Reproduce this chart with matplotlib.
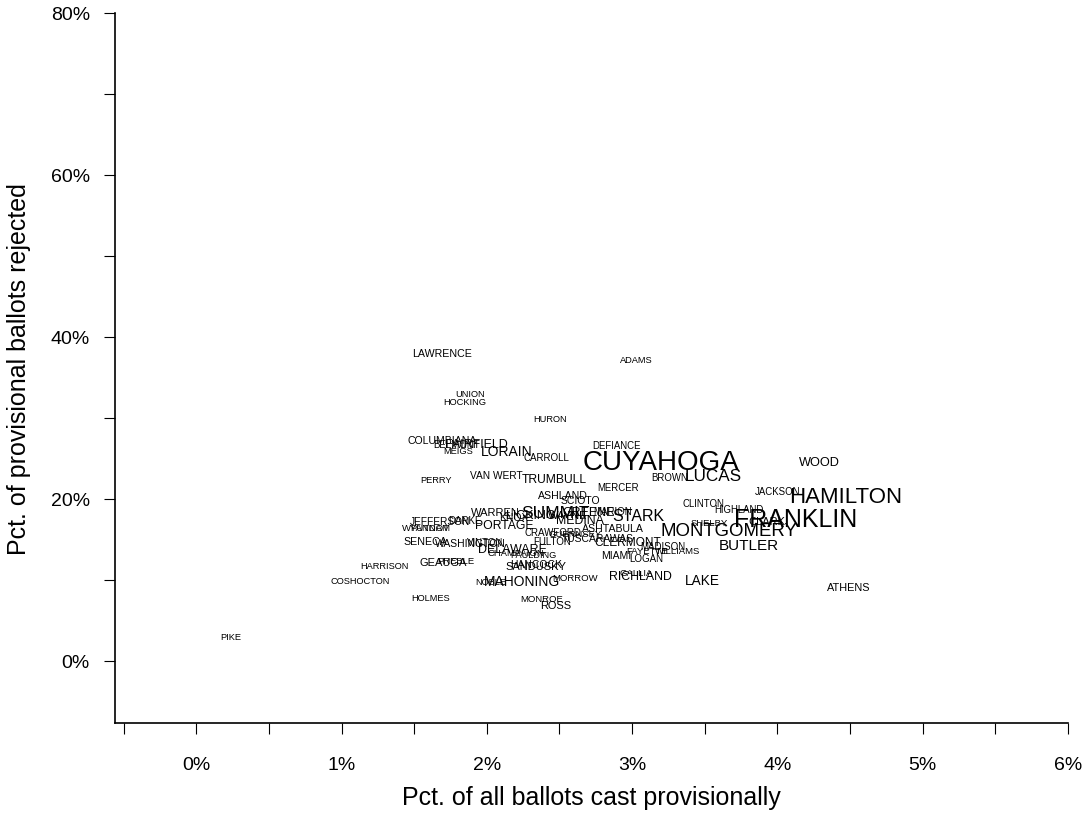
import matplotlib
matplotlib.use("Agg")
import matplotlib.pyplot as plt
from matplotlib.ticker import FixedLocator, FuncFormatter

plt.rcParams['font.family'] = ['Liberation Sans', 'DejaVu Sans']

# county, pct cast provisionally (%), pct rejected (%), label size (pt)
counties = ["LAWRENCE", "ADAMS", "UNION", "HOCKING", "HURON", "COLUMBIANA",
            "BELMONT", "FAIRFIELD", "MEIGS", "LORAIN", "CARROLL", "DEFIANCE",
            "CUYAHOGA", "WOOD", "PERRY", "VAN WERT", "TRUMBULL", "BROWN",
            "LUCAS", "MERCER", "JACKSON", "ASHLAND", "SCIOTO", "HAMILTON",
            "CLINTON", "HIGHLAND", "WARREN", "KNOX", "SUMMIT", "MARION",
            "STARK", "MEDINA", "FRANKLIN", "CLARK", "JEFFERSON", "DARKE",
            "WYANDOT", "PUTNAM", "PORTAGE", "SHELBY", "ASHTABULA", "MONTGOMERY",
            "CRAWFORD", "TUSCARAWAS", "FULTON", "SENECA", "WASHINGTON",
            "CLERMONT", "BUTLER", "MADISON", "FAYETTE", "WILLIAMS", "DELAWARE",
            "PAULDING", "MIAMI", "LOGAN", "GEAUGA", "PREBLE", "HANCOCK",
            "SANDUSKY", "HARRISON", "GALLIA", "RICHLAND", "MORROW", "LAKE",
            "MAHONING", "NOBLE", "COSHOCTON", "ATHENS", "HOLMES", "MONROE",
            "ROSS", "PIKE", "LICKING", "GREENE", "WAYNE", "GUERNSEY",
            "CHAMPAIGN", "VINTON"]
pct_cast = [1.693, 3.031, 1.886, 1.845, 2.438, 1.693,
            1.790, 1.928, 1.803, 2.134, 2.410, 2.893,
            3.197, 4.286, 1.652, 2.066, 2.466, 3.259,
            3.555, 2.900, 4.003, 2.521, 2.645, 4.472,
            3.493, 3.734, 2.059, 2.183, 2.472, 2.866,
            3.045, 2.638, 4.128, 3.928, 1.679, 1.852,
            1.583, 1.610, 2.121, 3.528, 2.866, 3.666,
            2.452, 2.762, 2.452, 1.576, 1.886,
            2.969, 3.803, 3.210, 3.100, 3.314, 2.176,
            2.321, 2.893, 3.100, 1.700, 1.783, 2.341,
            2.341, 1.293, 3.031, 3.059, 2.610, 3.486,
            2.245, 2.024, 1.128, 4.493, 1.610, 2.376,
            2.472, 0.238, 2.300, 2.700, 2.560, 2.610,
            2.200, 1.990]
pct_rejected = [37.95, 37.2, 33.0, 32.0, 29.9, 27.3,
                26.8, 26.8, 25.96, 25.96, 25.2, 26.7,
                24.6, 24.6, 22.4, 22.9, 22.5, 22.7,
                22.9, 21.5, 20.9, 20.5, 19.9, 20.3,
                19.5, 18.7, 18.4, 17.8, 18.3, 18.5,
                17.9, 17.4, 17.55, 17.3, 17.3, 17.4,
                16.4, 16.4, 16.8, 17.1, 16.4, 16.1,
                15.9, 15.1, 14.8, 14.8, 14.5,
                14.7, 14.3, 14.2, 13.6, 13.6, 13.8,
                13.1, 13.1, 12.7, 12.2, 12.4, 12.0,
                11.7, 11.7, 10.9, 10.5, 10.3, 10.0,
                9.9, 9.8, 9.9, 9.1, 7.8, 7.7,
                6.9, 2.97, 18.0, 18.4, 18.0, 15.7,
                13.4, 14.6]
label_size = [7.7, 6.7, 6.7, 6.7, 6.7, 7.6,
              7.0, 9.0, 6.7, 10.0, 7.0, 6.9,
              20.0, 9.2, 6.7, 7.3, 8.7, 6.9,
              12.3, 6.9, 6.9, 7.6, 7.5, 16.0,
              6.9, 6.9, 8.0, 7.5, 12.5, 7.0,
              11.5, 8.9, 18.0, 8.0, 7.3, 7.0,
              6.8, 6.8, 8.8, 6.8, 7.6, 13.4,
              7.0, 7.5, 7.0, 7.7, 7.5,
              8.6, 11.0, 7.0, 6.8, 6.8, 9.0,
              6.6, 7.5, 7.0, 8.0, 6.8, 7.5,
              8.0, 6.7, 6.8, 8.9, 6.8, 9.8,
              10.0, 6.7, 6.7, 7.8, 6.7, 6.8,
              7.9, 6.7, 9.0, 9.0, 8.0, 6.8,
              6.8, 7.0]

x_ticks = [0, 1, 2, 3, 4, 5, 6]
y_ticks = [0, 20, 40, 60, 80]

fig = plt.figure(figsize=(10.89, 8.20), dpi=100)
ax = fig.add_axes([0.1056, 0.117, 0.875, 0.866])

for name, x, y, s in zip(counties, pct_cast, pct_rejected, label_size):
    ax.text(x, y, name, fontsize=s, ha="center", va="center", color="black")

ax.set_xlim(-0.56, 6.0)
ax.set_ylim(-7.7, 80)

ax.spines["top"].set_visible(False)
ax.spines["right"].set_visible(False)
ax.spines["left"].set_linewidth(1.2)
ax.spines["bottom"].set_linewidth(1.2)

ax.xaxis.set_major_locator(FixedLocator(x_ticks))
ax.xaxis.set_minor_locator(FixedLocator([v + 0.5 for v in [-1] + x_ticks[:-1]]))
ax.yaxis.set_major_locator(FixedLocator(y_ticks))
ax.yaxis.set_minor_locator(FixedLocator([10, 30, 50, 70]))
pct = FuncFormatter(lambda v, p: f"{v:.0f}%")
ax.xaxis.set_major_formatter(pct)
ax.yaxis.set_major_formatter(pct)

ax.tick_params(axis="x", which="both", direction="out", length=8, width=0.8,
               labelsize=14, pad=16)
ax.tick_params(axis="y", which="both", direction="out", length=8, width=0.8,
               labelsize=14, pad=10)

ax.set_xlabel("Pct. of all ballots cast provisionally", fontsize=18, labelpad=8)
ax.set_ylabel("Pct. of provisional ballots rejected", fontsize=18, labelpad=14)

fig.savefig("out.png", dpi=100)
